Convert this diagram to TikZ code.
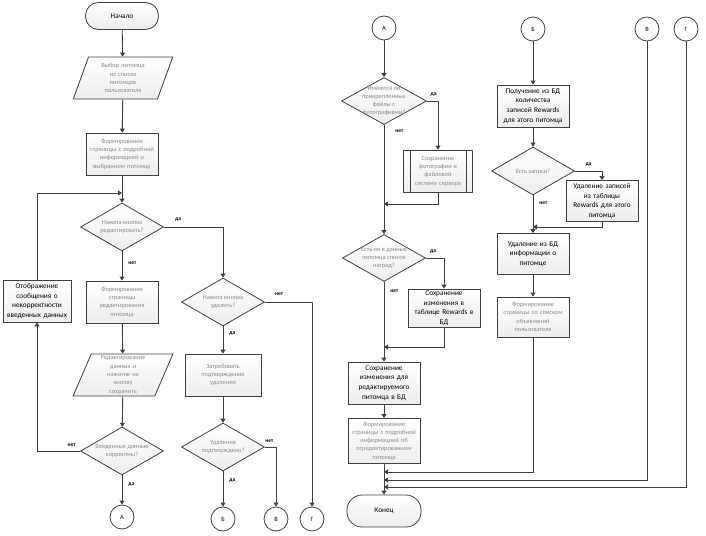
\documentclass[tikz,border=0pt]{standalone}
\usepackage{fontspec}
\setmainfont{Carlito}
\usetikzlibrary{shapes.geometric,arrows.meta}
\definecolor{linec}{HTML}{404040}
\definecolor{txtg}{HTML}{8A8A8A}
\begin{document}
\begin{tikzpicture}[x=1pt,y=-1pt,
  font=\fontsize{7.3}{9.6}\selectfont,
  conn/.style={draw=linec, line width=0.9pt, -{Triangle[length=4pt,width=5pt]}},
  shp/.style={draw=linec, line width=0.8pt, top color=white, bottom color=gray!14, align=center, inner sep=1pt},
  box/.style={shp, rectangle, minimum width=72pt, minimum height=42pt, text width=70pt},
  term/.style={shp, rectangle, rounded corners=13pt, minimum width=73pt, minimum height=27pt},
  io/.style={shp, trapezium, trapezium left angle=67, trapezium right angle=113, trapezium stretches=true, minimum width=100pt, minimum height=42pt, text width=58pt},
  dec/.style={shp, diamond, minimum width=83pt, minimum height=48pt, inner sep=0pt},
  dtxt/.style={text=txtg, align=center, inner sep=0pt, font=\fontsize{6.4}{8.3}\selectfont},
  conc/.style={draw=linec, line width=0.8pt, fill=white, circle, minimum size=24pt, inner sep=0pt, font=\fontsize{6.4}{8}\selectfont},
  grey/.style={text=txtg, font=\fontsize{6.4}{8.3}\selectfont},
  lbl/.style={font=\fontsize{5.5}{6}\selectfont\bfseries, inner sep=1pt}]
\useasboundingbox (0,0) rectangle (706,535);

\node[term] (start) at (122,16) {Начало};
\node[io, grey] (pick) at (123,78) {Выбор питомца\\из списка\\питомцев\\пользователя};
\node[box, grey] (page) at (122,154) {Формирование\\страницы с подробной\\информацией о\\выбранном питомце};
\node[dec, label={[dtxt]center:Нажата кнопка\\редактировать?}] (qedit) at (122,227) {};
\node[box, grey] (editpg) at (122,302) {Формирование\\страницы\\редактирования\\питомца};
\node[box, minimum width=68pt, text width=66pt] (err) at (37,301) {Отображение\\сообщения о\\некорректности\\введенных данных};
\node[io, grey] (input) at (123,375) {Редактирование\\данных и\\нажатие на\\кнопку\\сохранить};
\node[dec, label={[dtxt]center:Введенные данные\\корректны?}] (qok) at (122,451) {};
\node[conc] (ca) at (122,517) {А};

\node[dec, label={[dtxt]center:Нажата кнопка\\удалить?}] (qdel) at (223,302) {};
\node[box, grey, minimum width=76pt] (ask) at (223,375) {Затребовать\\подтверждение\\удаления};
\node[dec, label={[dtxt]center:Удаление\\подтверждено?}] (qconf) at (223,447) {};
\node[conc] (cb) at (223,519) {Б};
\node[conc] (cv) at (276,519) {В};
\node[conc] (cg) at (312,519) {Г};

\node[conc] (ca2) at (384,28) {А};
\node[dec, minimum width=85pt, minimum height=47pt, label={[dtxt]center:Имеются ли\\прикрепленные\\файлы с\\фотографиями?}] (qph) at (384,101) {};
\node[box, grey, minimum width=69pt, text width=56pt] (saveph) at (438,171) {Сохранение\\фотографии в\\файловой\\системе сервера};
\draw[linec, line width=0.8pt] ([xshift=7pt]saveph.north west) -- ([xshift=7pt]saveph.south west)
  ([xshift=-7pt]saveph.north east) -- ([xshift=-7pt]saveph.south east);
\node[dec, minimum height=47pt, label={[dtxt]center:Есть ли в данных\\питомца список\\наград?}] (qrw) at (384,258) {};
\node[box, minimum width=71pt, minimum height=38pt] (saverw) at (444,308) {Сохранение\\изменения в\\таблице Rewards в\\БД};
\node[box, minimum width=69pt] (savepet) at (384,383) {Сохранение\\изменения для\\редактируемого\\питомца в БД};
\node[box, grey, minimum height=45pt] (showpg) at (384,441) {Формирование\\страницы с подробной\\информацией об\\отредактированном\\питомце};
\node[term, minimum width=74pt, minimum height=32pt, rounded corners=15pt] (end) at (384,511) {Конец};

\node[conc] (cb2) at (533,29) {Б};
\node[box, minimum width=70pt] (getrw) at (533,106) {Получение из БД\\количества\\записей Rewards\\для этого питомца};
\node[dec, label={[dtxt]center:Есть записи?}] (qrec) at (533,171) {};
\node[box, minimum width=70pt, minimum height=41pt] (delrw) at (602,201) {Удаление записей\\из таблицы\\Rewards для этого\\питомца};
\node[box, minimum width=70pt, minimum height=41pt] (delpet) at (533,254) {Удаление из БД\\информации о\\питомце};
\node[box, grey, minimum width=69pt, minimum height=40pt] (listpg) at (533,317) {Формирование\\страницы со списком\\объявлений\\пользователя};
\node[conc] (cv2) at (647,29) {В};
\node[conc] (cg2) at (686,29) {Г};

\coordinate (jloop) at (122,193);
\coordinate (jph) at (384,204);
\coordinate (jrw) at (384,347);
\coordinate (jrec) at (533,227);
\coordinate (jl1) at (384,472);
\coordinate (jl2) at (384,480);
\coordinate (jl3) at (384,487);

\draw[conn] (start) -- (pick);
\draw[conn] (pick) -- (page);
\draw[conn] (page) -- (qedit);
\draw[conn] (err) |- (jloop);
\draw[conn] (qedit) -| node[lbl, pos=0.12, above=4pt] {да} (qdel);
\draw[conn] (qedit) -- node[lbl, pos=0.4, right=5pt] {нет} (editpg);
\draw[conn] (editpg) -- (input);
\draw[conn] (input) -- (qok);
\draw[conn] (qok) -- node[lbl, pos=0.3, right=5pt] {да} (ca);
\draw[conn] (qok) -| node[lbl, pos=0.1, above=3pt] {нет} (err);
\draw[conn] (qdel) -| node[lbl, pos=0.15, above=5pt] {нет} (cg);
\draw[conn] (qdel) -- node[lbl, pos=0.25, right=5pt] {да} (ask);
\draw[conn] (ask) -- (qconf);
\draw[conn] (qconf) -- node[lbl, pos=0.25, right=5pt] {да} (cb);
\draw[conn] (qconf) -| node[lbl, pos=0.2, above=3pt] {нет} (cv);

\draw[conn] (ca2) -- (qph);
\draw[conn] (qph) -| node[lbl, pos=0.3, above=3pt] {да} (saveph);
\draw[conn] (qph) -- node[lbl, pos=0.06, right=10pt] {нет} (qrw);
\draw[conn] (saveph) |- (jph);
\draw[conn] (qrw) -| node[lbl, pos=0.2, above=3pt] {да} (saverw);
\draw[conn] (qrw) -- node[lbl, pos=0.12, right=5pt] {нет} (savepet);
\draw[conn] (saverw) |- (jrw);
\draw[conn] (savepet) -- (showpg);
\draw[conn] (showpg) -- (end);
\draw[conn] (listpg) |- (jl1);
\draw[conn] (cv2) |- (jl2);
\draw[conn] (cg2) |- (jl3);

\draw[conn] (cb2) -- (getrw);
\draw[conn] (getrw) -- (qrec);
\draw[conn] (qrec) -| node[lbl, pos=0.25, above=3pt] {да} (delrw);
\draw[conn] (qrec) -- node[lbl, pos=0.2, right=5pt] {нет} (delpet);
\draw[conn] (delrw) |- (jrec);
\draw[conn] (delpet) -- (listpg);
\end{tikzpicture}
\end{document}
